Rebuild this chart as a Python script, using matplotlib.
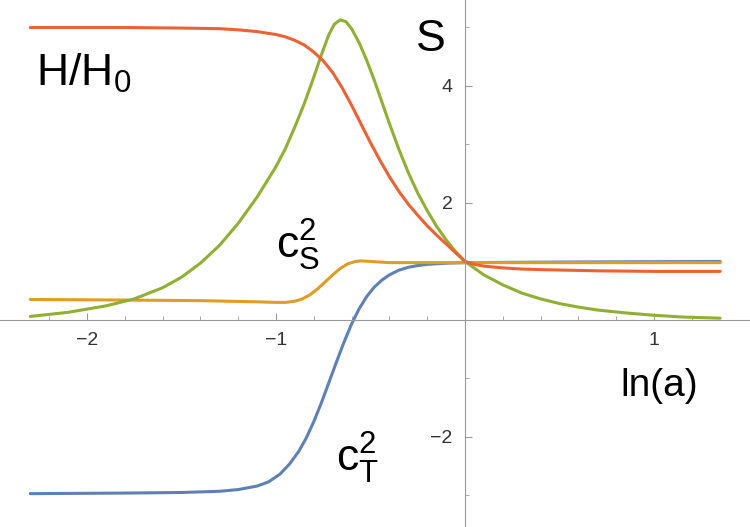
import matplotlib
matplotlib.use("Agg")
import matplotlib.pyplot as plt

plt.rcParams["font.family"] = "Liberation Sans"
plt.rcParams["mathtext.fontset"] = "custom"
plt.rcParams["mathtext.rm"] = "Liberation Sans"
plt.rcParams["mathtext.it"] = "Liberation Sans"

x_h = [-2.3,-1.8,-1.5,-1.3,-1.2,-1.1,-1.0,-0.95,-0.9,-0.85,-0.8,-0.75,-0.7,-0.65,-0.6,-0.55,-0.5,-0.45,-0.4,-0.35,-0.3,-0.25,-0.2,-0.15,-0.1,-0.05,0.0,0.05,0.1,0.2,0.3,0.4,0.55,0.7,1.0,1.35]
y_h = [5.0,5.0,4.99,4.98,4.96,4.93,4.88,4.84,4.78,4.7,4.58,4.43,4.23,3.97,3.67,3.35,3.03,2.73,2.45,2.2,1.98,1.79,1.61,1.45,1.3,1.15,1.0,0.95,0.92,0.89,0.87,0.86,0.85,0.84,0.83,0.83]

x_s = [-2.3,-2.1,-1.9,-1.75,-1.6,-1.5,-1.4,-1.3,-1.2,-1.1,-1.0,-0.95,-0.9,-0.85,-0.8,-0.76,-0.72,-0.69,-0.66,-0.63,-0.6,-0.56,-0.52,-0.48,-0.44,-0.4,-0.35,-0.3,-0.25,-0.2,-0.15,-0.1,-0.05,0.0,0.1,0.2,0.3,0.4,0.5,0.6,0.7,0.85,1.0,1.15,1.35]
y_s = [0.06,0.13,0.24,0.36,0.55,0.73,0.97,1.27,1.65,2.1,2.62,2.93,3.3,3.7,4.15,4.53,4.88,5.06,5.13,5.1,4.98,4.74,4.44,4.1,3.73,3.36,2.92,2.52,2.17,1.87,1.6,1.37,1.17,1.0,0.77,0.6,0.46,0.36,0.28,0.22,0.17,0.12,0.08,0.05,0.03]

x_cs = [-2.3,-1.8,-1.4,-1.1,-1.0,-0.95,-0.9,-0.86,-0.82,-0.78,-0.74,-0.7,-0.66,-0.62,-0.58,-0.55,-0.5,-0.45,-0.4,-0.3,0.0,0.5,1.35]
y_cs = [0.35,0.34,0.33,0.31,0.30,0.30,0.32,0.36,0.43,0.53,0.65,0.77,0.88,0.96,1.0,1.01,1.0,0.99,0.98,0.98,0.98,0.98,0.98]

x_ct = [-2.3,-1.8,-1.5,-1.3,-1.2,-1.1,-1.04,-0.98,-0.93,-0.88,-0.84,-0.8,-0.76,-0.72,-0.68,-0.64,-0.6,-0.56,-0.52,-0.48,-0.44,-0.4,-0.35,-0.3,-0.25,-0.2,-0.1,0.0,0.5,1.35]
y_ct = [-2.97,-2.96,-2.95,-2.93,-2.9,-2.84,-2.77,-2.64,-2.47,-2.25,-2.02,-1.74,-1.42,-1.07,-0.72,-0.38,-0.07,0.19,0.4,0.56,0.68,0.77,0.85,0.9,0.93,0.95,0.97,0.98,0.99,1.0]

xticks = [-2, -1, 1]
yticks = [-2, 2, 4]

fig = plt.figure(figsize=(7.5, 5.27), dpi=100)
ax = fig.add_axes([0, 0, 1, 1])
ax.set_xlim(-2.46, 1.508)
ax.set_ylim(-3.54, 5.47)
lw = 2.2
kw = dict(lw=lw, solid_joinstyle="round", solid_capstyle="round")
ax.plot(x_ct, y_ct, color="#5E81B5", **kw)
ax.plot(x_cs, y_cs, color="#E19C24", **kw)
ax.plot(x_s, y_s, color="#8FB032", **kw)
ax.plot(x_h, y_h, color="#EB6235", **kw)

for s in ["top", "right"]:
    ax.spines[s].set_visible(False)
ax.spines["left"].set_position(("data", 0))
ax.spines["bottom"].set_position(("data", 0))
for s in ["left", "bottom"]:
    ax.spines[s].set_color("#999999")
ax.set_xticks(xticks)
ax.set_yticks(yticks)
ax.tick_params(direction="in", length=5, color="#999999", labelsize=14, pad=9, labelcolor="#333333")
ax.set_xticks([-2.2,-1.8,-1.6,-1.4,-1.2,-0.8,-0.6,-0.4,-0.2,0.2,0.4,0.6,0.8,1.2], minor=True)
ax.set_yticks([-3,-1,1,3,5], minor=True)
ax.tick_params(which="minor", direction="in", length=3, color="#999999")

fs = 32
ax.text(-2.27, 4.0, r"H/H$_\mathrm{0}$", fontsize=fs)
ax.text(-0.26, 4.6, "S", fontsize=fs)
ax.text(-1.0, 1.05, r"c$_\mathrm{S}^\mathrm{2}$", fontsize=fs)
ax.text(-0.68, -2.6, r"c$_\mathrm{T}^\mathrm{2}$", fontsize=fs)
ax.text(0.82, -1.3, "ln(a)", fontsize=28)
fig.savefig("out.png", dpi=100)
